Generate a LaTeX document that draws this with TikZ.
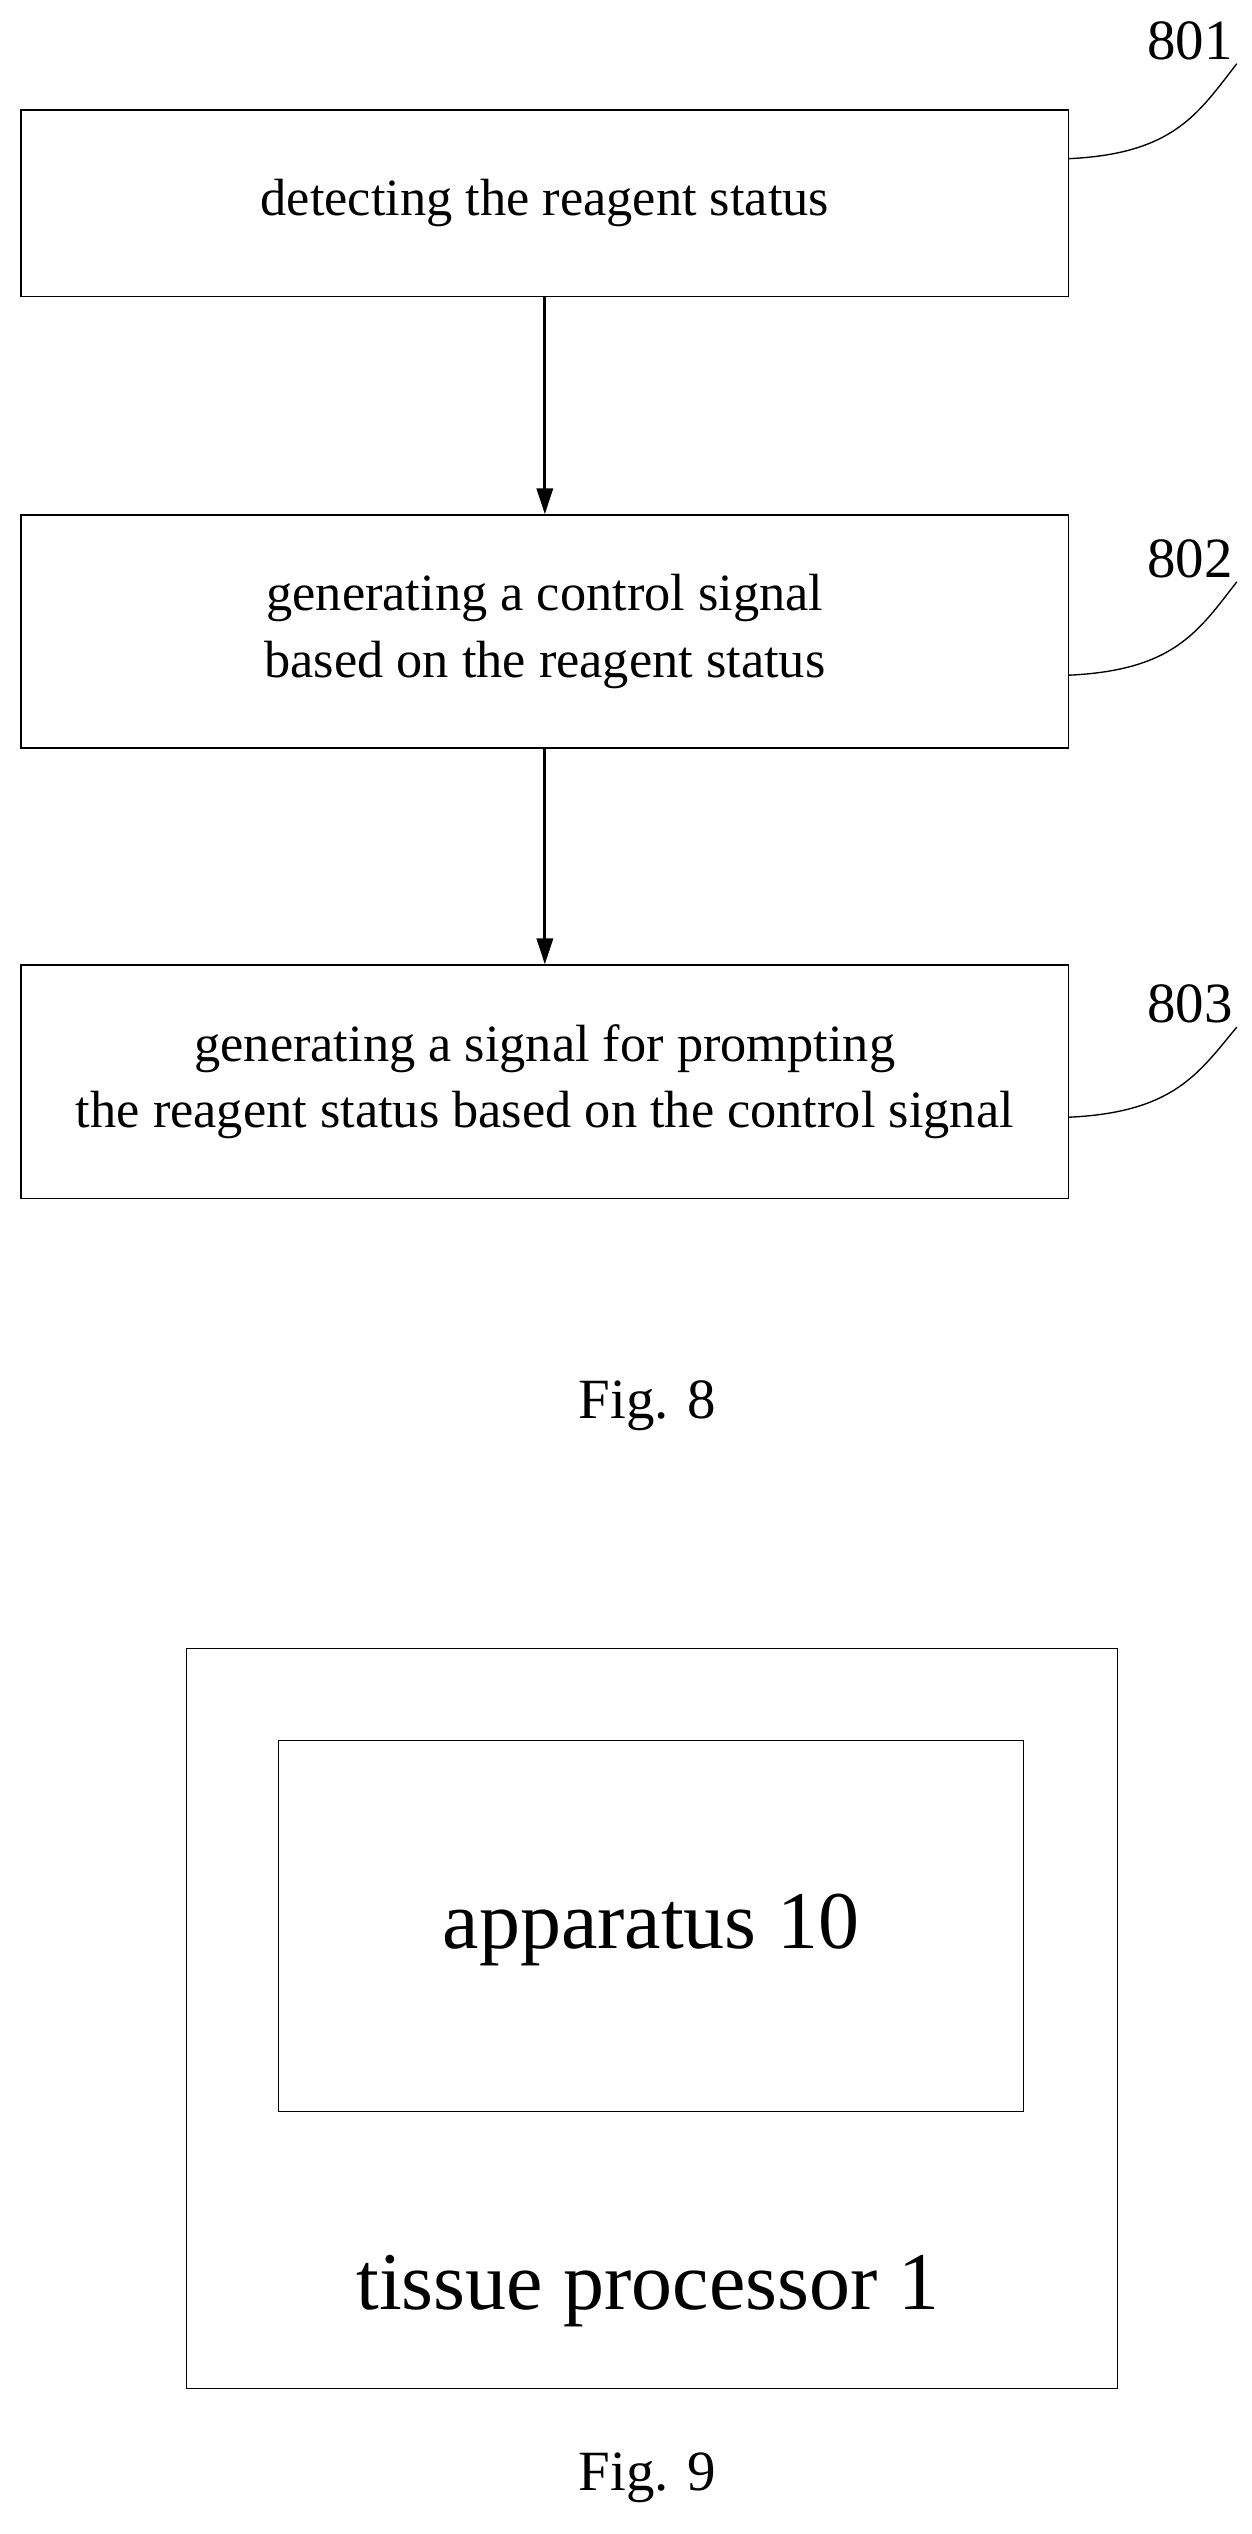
\documentclass[tikz,border=0pt]{standalone}
\usepackage{fontspec}
\setmainfont{Liberation Serif}
\usetikzlibrary{arrows.meta}
\usetikzlibrary{positioning}
\tikzset{
    stepbox/.style={
        draw,
        very thick,
        rectangle,
        align=center,
        inner sep=0pt,
        font=\fontsize{46}{58}\selectfont
    },
    flow/.style={
        draw,
        line width=2.5pt,
        -{Triangle[length=8mm, width=5mm]}
    },
    tag/.style={
        font=\fontsize{50}{58}\selectfont
    }
}

\begin{document}
\begin{tikzpicture}[x=0.05cm, y=-0.05cm]
    \useasboundingbox (0,0) rectangle (773,1565);
    % Fig. 8 - steps
    \node[stepbox, minimum width=647*0.05cm, minimum height=115*0.05cm] (s1) at (336.5,125.5) {detecting the reagent status};
    \node[stepbox, minimum width=647*0.05cm, minimum height=144*0.05cm] (s2) at (336.5,390) {generating a control signal\\based on the reagent status};
    \node[stepbox, minimum width=647*0.05cm, minimum height=144*0.05cm] (s3) at (336.5,668) {generating a signal for prompting\\the reagent status based on the control signal};

    % Arrows
    \draw[flow] (s1) -- (s2);
    \draw[flow] (s2) -- (s3);

    % Reference numerals
    \node[tag] (n1) at (735,25) {801};
    \node[tag] (n2) at (735,345) {802};
    \node[tag] (n3) at (735,620) {803};
    \coordinate (c1) at (660,98);
    \coordinate (c2) at (660,417);
    \coordinate (c3) at (660,690);
    \draw[very thick] (c1) .. controls (725,95) and (740,70) .. (n1.south east);
    \draw[very thick] (c2) .. controls (725,414) and (740,390) .. (n2.south east);
    \draw[very thick] (c3) .. controls (725,687) and (740,663) .. (n3.south east);

    \node[tag] (f8) at (400,868) {Fig. 8};

    % Fig. 9 - processor
    \node[draw, very thick, minimum width=575*0.05cm, minimum height=457*0.05cm] (tp) at (402.5,1246.5) {};
    \node[draw, very thick, minimum width=460*0.05cm, minimum height=229*0.05cm] (ap) at (402,1189.5) {};
    \node[font=\fontsize{72}{80}\selectfont] (apl) at (402,1192) {apparatus 10};
    \node[font=\fontsize{72}{80}\selectfont] (tpl) at (400,1415) {tissue processor 1};

    \node[tag] (f9) at (400,1530) {Fig. 9};
\end{tikzpicture}
\end{document}
